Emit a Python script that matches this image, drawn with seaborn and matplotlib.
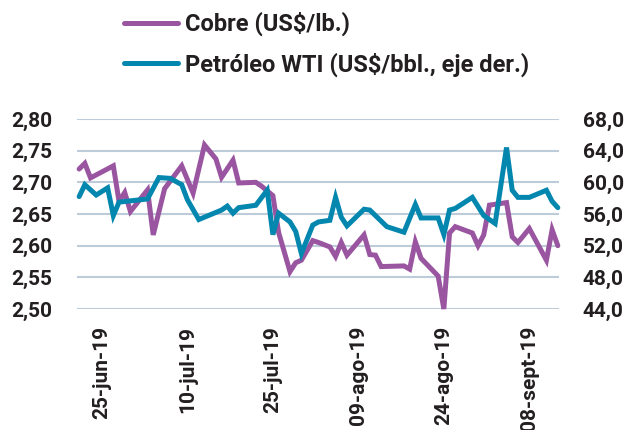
import matplotlib
matplotlib.use("Agg")
import matplotlib.pyplot as plt
import matplotlib.dates as mdates
import seaborn as sns
import pandas as pd

# ---------------- data ----------------
copper_dates = ["2019-06-21", "2019-06-22", "2019-06-23", "2019-06-27", "2019-06-28",
                "2019-06-29", "2019-06-30", "2019-07-03", "2019-07-04", "2019-07-06",
                "2019-07-09", "2019-07-11", "2019-07-13", "2019-07-15", "2019-07-16",
                "2019-07-18", "2019-07-19", "2019-07-22", "2019-07-23", "2019-07-25",
                "2019-07-26", "2019-07-28", "2019-07-29", "2019-07-30", "2019-08-01",
                "2019-08-02", "2019-08-04", "2019-08-05", "2019-08-06", "2019-08-07",
                "2019-08-10", "2019-08-11", "2019-08-12", "2019-08-13", "2019-08-17",
                "2019-08-18", "2019-08-19", "2019-08-20", "2019-08-23", "2019-08-24",
                "2019-08-25", "2019-08-26", "2019-08-29", "2019-08-30", "2019-08-31",
                "2019-09-01", "2019-09-04", "2019-09-05", "2019-09-06", "2019-09-08",
                "2019-09-11", "2019-09-12", "2019-09-13"]
copper_values = [2.721, 2.730, 2.707, 2.726, 2.670,
                 2.684, 2.654, 2.688, 2.617, 2.690,
                 2.726, 2.683, 2.759, 2.737, 2.708,
                 2.735, 2.699, 2.700, 2.694, 2.679,
                 2.621, 2.559, 2.573, 2.577, 2.608,
                 2.605, 2.598, 2.583, 2.605, 2.585,
                 2.617, 2.586, 2.585, 2.567, 2.568,
                 2.563, 2.606, 2.580, 2.552, 2.500,
                 2.620, 2.630, 2.620, 2.600, 2.617,
                 2.664, 2.668, 2.614, 2.605, 2.627,
                 2.577, 2.625, 2.600]

oil_dates = ["2019-06-21", "2019-06-22", "2019-06-24", "2019-06-26", "2019-06-27",
             "2019-06-28", "2019-07-03", "2019-07-05", "2019-07-07", "2019-07-09",
             "2019-07-10", "2019-07-12", "2019-07-16", "2019-07-17", "2019-07-18",
             "2019-07-19", "2019-07-22", "2019-07-24", "2019-07-25", "2019-07-26",
             "2019-07-28", "2019-07-29", "2019-07-30", "2019-08-01", "2019-08-02",
             "2019-08-04", "2019-08-05", "2019-08-06", "2019-08-07", "2019-08-10",
             "2019-08-11", "2019-08-14", "2019-08-17", "2019-08-19", "2019-08-20",
             "2019-08-23", "2019-08-24", "2019-08-25", "2019-08-26", "2019-08-29",
             "2019-08-31", "2019-09-02", "2019-09-04", "2019-09-05", "2019-09-06",
             "2019-09-08", "2019-09-11", "2019-09-12", "2019-09-13"]
oil_values = [58.2, 59.7, 58.4, 59.3, 55.8,
              57.5, 57.9, 60.6, 60.5, 59.7,
              57.8, 55.3, 56.5, 57.0, 56.1,
              56.8, 57.1, 59.0, 53.4, 56.1,
              55.0, 53.8, 51.0, 54.6, 55.0,
              55.2, 58.1, 55.6, 54.5, 56.6,
              56.5, 54.4, 53.7, 57.2, 55.5,
              55.5, 53.4, 56.5, 56.7, 58.1,
              55.8, 54.8, 64.4, 59.0, 58.1,
              58.1, 59.0, 57.6, 56.8]

tick_dates = ["2019-06-25", "2019-07-10", "2019-07-25", "2019-08-09", "2019-08-24", "2019-09-08"]
tick_labels = ["25-jun-19", "10-jul-19", "25-jul-19", "09-ago-19", "24-ago-19", "08-sept-19"]
copper_ticks = [2.50, 2.55, 2.60, 2.65, 2.70, 2.75, 2.80]
oil_ticks = [44.0, 48.0, 52.0, 56.0, 60.0, 64.0, 68.0]
series_names = ["Cobre (US$/lb.)", "Petróleo WTI (US$/bbl., eje der.)"]

# ---------------- style ----------------
PURPLE = "#9A55A1"
TEAL = "#0487AF"
GRID = "#BCCCDA"
TEXT = "#231F20"
FS = 15

sns.set_style("white")
plt.rcParams["font.family"] = ["Roboto", "DejaVu Sans"]
plt.rcParams["font.weight"] = "bold"

fig = plt.figure(figsize=(6.31, 4.30), dpi=100)
ax = fig.add_axes([77 / 631, 1 - 309 / 430, (559 - 77) / 631, (309 - 119) / 430])
ax2 = ax.twinx()

df_c = pd.DataFrame({"fecha": pd.to_datetime(copper_dates), "valor": copper_values})
df_o = pd.DataFrame({"fecha": pd.to_datetime(oil_dates), "valor": oil_values})

sns.lineplot(data=df_c, x="fecha", y="valor", ax=ax, color=PURPLE, linewidth=3.6,
             legend=False)
sns.lineplot(data=df_o, x="fecha", y="valor", ax=ax2, color=TEAL, linewidth=3.6,
             legend=False)
for ln in ax.get_lines() + ax2.get_lines():
    ln.set_solid_joinstyle("miter")
    ln.set_clip_on(False)

# axes limits
xmin = pd.Timestamp("2019-06-21") - pd.Timedelta(hours=9)
xmax = pd.Timestamp("2019-09-13") + pd.Timedelta(hours=5)
ax.set_xlim(mdates.date2num(xmin), mdates.date2num(xmax))
ax.set_ylim(2.50, 2.80)
ax2.set_ylim(44.0, 68.0)

# ticks
ax.set_xticks(mdates.date2num(pd.to_datetime(tick_dates)))
ax.set_xticklabels(tick_labels, rotation=90, fontsize=FS, color=TEXT, fontweight="bold")
ax.set_yticks(copper_ticks)
ax.set_yticklabels([f"{v:.2f}".replace(".", ",") for v in copper_ticks], fontsize=FS,
                   color=TEXT, fontweight="bold")
ax2.set_yticks(oil_ticks)
ax2.set_yticklabels([f"{v:.1f}".replace(".", ",") for v in oil_ticks], fontsize=FS,
                    color=TEXT, fontweight="bold")

ax.tick_params(axis="x", length=0, pad=12)
ax.tick_params(axis="y", length=0, pad=18)
ax2.tick_params(axis="y", length=0, pad=17)

ax.set_xlabel("")
ax.set_ylabel("")
ax2.set_ylabel("")

ax.grid(axis="y", color=GRID, linewidth=1.5)
ax.grid(axis="x", visible=False)
ax2.grid(False)
for a in (ax, ax2):
    for s in a.spines.values():
        s.set_visible(False)

handles = [ax.get_lines()[0], ax2.get_lines()[0]]
leg = fig.legend(handles, series_names, loc="upper left",
                 bbox_to_anchor=(124 / 631, 1 - 12 / 430), frameon=False,
                 prop={"size": 17, "weight": "bold"}, handlelength=2.3,
                 handletextpad=0.3, labelspacing=0.68, borderpad=0, borderaxespad=0)
for t in leg.get_texts():
    t.set_color(TEXT)

fig.savefig("out.png", dpi=100)
